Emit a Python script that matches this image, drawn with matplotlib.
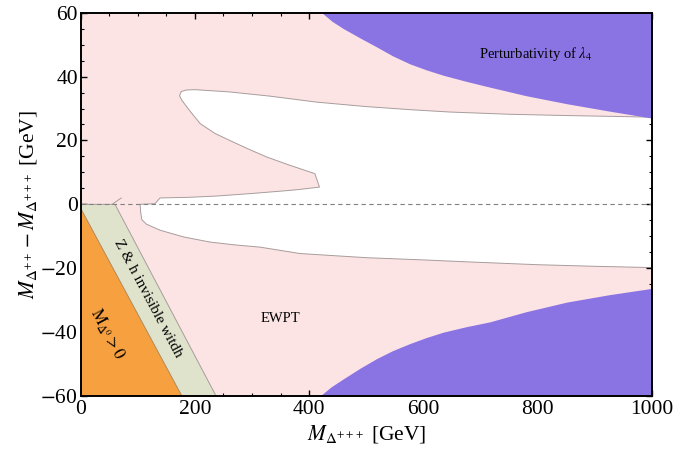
import numpy as np
import matplotlib
matplotlib.use("Agg")
import matplotlib.pyplot as plt

# --- region boundaries (M_D+++ in GeV, mass splitting in GeV) ---
# allowed (white) window, traced counter-clockwise from the top-right corner
allowed_x = [1000, 850, 750, 646, 580, 500, 413, 330, 260, 200, 185, 176, 173,
             177, 190, 209, 235, 267, 295, 326, 365, 410, 418,
             380, 355, 300, 238, 190, 139, 130,
             104, 105, 107, 115, 139, 180, 226, 270, 314, 384, 500, 600, 676,
             800, 900, 1000]
allowed_y = [27.3, 27.8, 28.2, 28.9, 29.6, 30.6, 32.0, 33.9, 35.2, 35.9, 35.8, 35.3, 34.0,
             32.6, 29.5, 25.3, 22.2, 19.5, 17.2, 14.8, 12.3, 9.6, 5.4,
             4.6, 4.2, 3.4, 2.6, 2.2, 2.0, 0.2,
             0.0, -2.5, -4.8, -6.2, -8.1, -10.2, -11.8, -12.7, -13.4, -15.4, -16.7, -17.4, -18.0,
             -18.9, -19.4, -19.8]

# perturbativity of lambda_4 boundaries
pert_up_x = [422, 440, 460, 490, 518, 546, 576, 605, 635, 675, 716, 780, 851, 925, 1000]
pert_up_y = [60.0, 57.3, 55.0, 52.0, 49.3, 46.5, 44.0, 42.1, 40.4, 38.5, 36.7, 34.0, 31.5, 29.2, 27.0]
pert_lo_x = [419, 438, 460, 490, 518, 546, 576, 605, 635, 675, 716, 780, 851, 925, 1000]
pert_lo_y = [-60.0, -57.2, -54.6, -51.2, -48.3, -45.8, -43.6, -41.7, -40.0, -38.3, -36.8,
             -33.6, -30.6, -28.3, -26.3]

# M_D0 > 0 (orange) and Z & h invisible width (green) edges
orange_x = [0, 177, 0]
orange_y = [-1.3, -60, -60]
zh_x = [0, 60, 237, 177, 0]
zh_y = [0, 0, -60, -60, -1.3]
kink_x = [55, 71]
kink_y = [0, 2]

PINK = "#fce4e4"
PURPLE = "#8a73e2"
ORANGE = "#f6a03f"
GREEN = "#e0e3cc"
EDGE = "#a89c9c"

plt.rcParams["font.family"] = "serif"
plt.rcParams["font.serif"] = ["Liberation Serif", "DejaVu Serif"]
plt.rcParams["mathtext.fontset"] = "stix"

fig = plt.figure(figsize=(6.77, 4.61), dpi=100)
ax = fig.add_axes([0.1192, 0.1410, 0.8437, 0.8315])
ax.set_facecolor(PINK)

ax.fill(allowed_x, allowed_y, facecolor="white", edgecolor=EDGE, lw=0.7,
        joinstyle="round", zorder=1)
ax.fill_between(pert_up_x, pert_up_y, 60, color=PURPLE, lw=0, zorder=2)
ax.fill_between(pert_lo_x, pert_lo_y, -60, color=PURPLE, lw=0, zorder=2)
ax.fill(zh_x, zh_y, facecolor=GREEN, edgecolor=EDGE, lw=0.7, zorder=3)
ax.fill(orange_x, orange_y, facecolor=ORANGE, edgecolor="#b08850", lw=0.5, zorder=4)
ax.plot(kink_x, kink_y, color=EDGE, lw=0.7, zorder=3)
ax.axhline(0, color="#808080", lw=0.8, ls=(0, (4, 3)), zorder=5)

ax.text(797, 47.2, r"Perturbativity of $\lambda_4$", ha="center", va="center",
        fontsize=10.5, zorder=6)
ax.text(349, -35.7, "EWPT", ha="center", va="center", fontsize=10.5, zorder=6)
ax.text(117, -29.5, "Z & h invisible witdh", ha="center", va="center",
        rotation=-62, rotation_mode="anchor", fontsize=11, zorder=6)
ax.text(47, -40.5, r"$\mathrm{M}_{\Delta^0} > 0$", ha="center", va="center",
        rotation=-62, rotation_mode="anchor", fontsize=12, zorder=6)

ax.set_xlim(0, 1000)
ax.set_ylim(-60, 60)
ax.set_xticks(np.arange(0, 1001, 200))
ax.set_yticks(np.arange(-60, 61, 20))
ax.set_xticks(np.arange(0, 1001, 50), minor=True)
ax.set_yticks(np.arange(-60, 61, 5), minor=True)
ax.set_yticklabels(["$-$60", "$-$40", "$-$20", "0", "20", "40", "60"])
ax.tick_params(which="both", direction="in", top=True, right=True, labelsize=15.5)
ax.tick_params(which="major", length=4, width=1)
ax.tick_params(which="minor", length=2.5, width=0.8)
ax.tick_params(axis="x", pad=3)
ax.tick_params(axis="y", pad=2)
for s in ax.spines.values():
    s.set_linewidth(1.4)
    s.set_zorder(10)

ax.set_xlabel(r"$M_{\Delta^{+++}}$ [GeV]", fontsize=15.5, labelpad=3)
ax.set_ylabel(r"$M_{\Delta^{++}} - M_{\Delta^{+++}}$ [GeV]", fontsize=15.5, labelpad=1)

fig.savefig("out.png", dpi=100)
